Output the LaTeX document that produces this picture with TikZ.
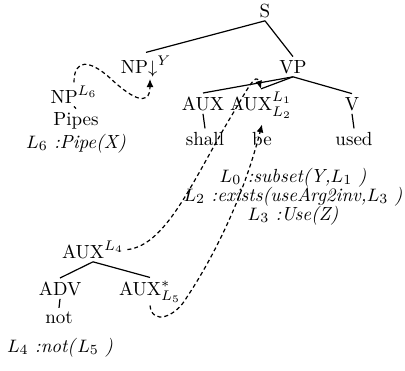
\documentclass[tikz,border=0pt]{standalone}
\usetikzlibrary{arrows.meta}
\begin{document}
\begin{tikzpicture}[x=0.5pt,y=-0.5pt,
  every node/.style={font=\fontsize{9.5}{11}\selectfont, inner sep=1.5pt, anchor=base},
  edge/.style={line width=0.6pt},
  link/.style={line width=0.6pt, dash pattern=on 2pt off 1.5pt, -{Latex[length=4pt,width=3.5pt]}}]
\useasboundingbox (0,0) rectangle (405,370);
% nodes
\node (S) at (265,17) {S};
\node (NPd) at (146,73) {NP$\downarrow^{Y}$};
\node (VP) at (293,73) {VP};
\node (NPL) at (74,103) {NP$^{L_6}$};
\node (Pipes) at (76,125) {Pipes};
\node (F6) at (76,148) {$L_6$ \textit{:Pipe(X)}};
\node (AUX) at (203,110) {AUX};
\node (AUXb) at (261,110) {AUX$^{L_1}_{L_2}$};
\node (V) at (352,110) {V};
\node (shall) at (205,145) {shall};
\node (be) at (262,145) {be};
\node (used) at (354,145) {used};
\node (F0) at (293,182) {$L_0$ \textit{:subset(Y,}$L_1$\ \textit{)}};
\node (F2) at (293,201) {$L_2$ \textit{:exists(useArg2inv,}$L_3$\ \textit{)}};
\node (F3) at (293,220) {$L_3$ \textit{:Use(Z)}};
\node (AUXc) at (93,258) {AUX$^{L_4}$};
\node (ADV) at (60,295) {ADV};
\node (AUXd) at (150,295) {AUX$^{*}_{L_5}$};
\node (not) at (59,323) {not};
\node (F4) at (60,352) {$L_4$ \textit{:not(}$L_5$\ \textit{)}};
% tree edges
\draw[edge] (S.south) -- (NPd.north);
\draw[edge] (S.south) -- (VP.north);
\draw[edge] (VP.south) -- (AUX.north);
\draw[edge] (VP.south) -- (AUXb.north);
\draw[edge] (VP.south) -- (V.north);
\draw[edge] (AUX.south) -- (shall.north);
\draw[edge] (V.south) -- (used.north);
\draw[edge] (NPL.south) -- (Pipes.north);
\draw[edge] (AUXc.south) -- (ADV.north);
\draw[edge] (AUXc.south) -- (AUXd.north);
\draw[edge] (ADV.south) -- (not.north);
% dashed links
\draw[link] (NPL.north) .. controls (74,58) and (90,60) .. (110,78)
  .. controls (128,95) and (150,110) .. ([xshift=2pt,yshift=-3pt]NPd.base);
\draw[link] (AUXc.east) .. controls (168,245) and (195,175) .. (235,110)
  .. controls (248,88) and (256,72) .. (AUXb.north);
\draw[link] (AUXd.south) .. controls (152,325) and (175,318) .. (187,297)
  .. controls (205,270) and (240,210) .. ([yshift=2pt]be.north);
\end{tikzpicture}
\end{document}
